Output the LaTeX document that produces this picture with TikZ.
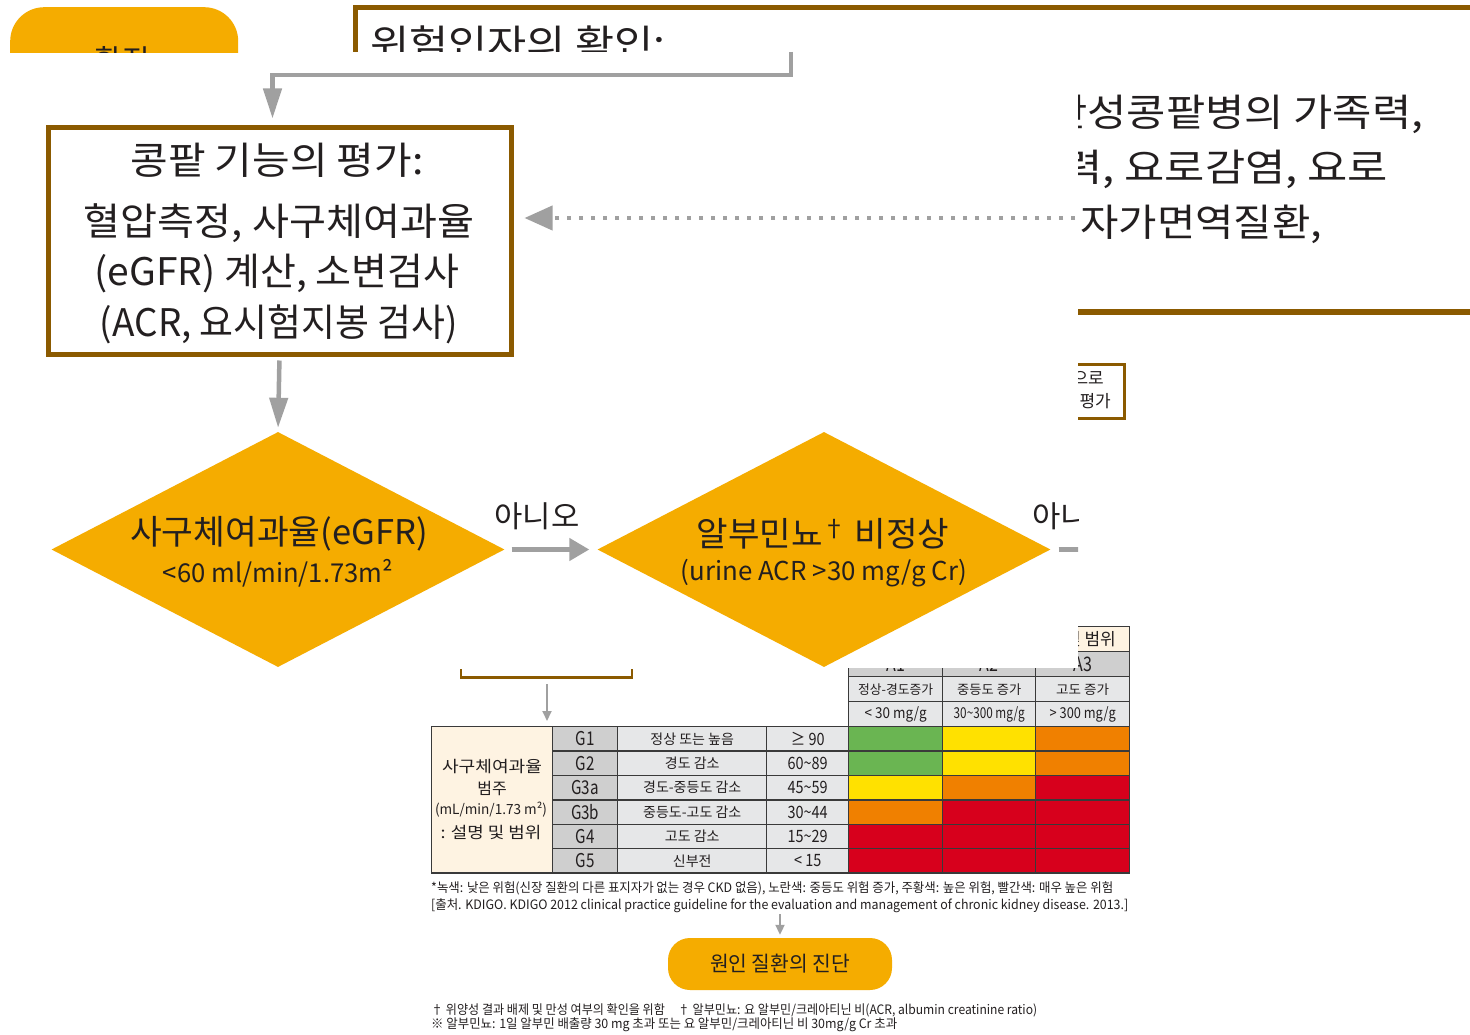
\documentclass[tikz,border=0pt]{standalone}
\usepackage{fontspec}
\usepackage{graphicx}
\setmainfont{Noto Sans CJK KR}
\usetikzlibrary{arrows.meta,shapes.geometric}
\definecolor{brn}{HTML}{8B5A00}
\definecolor{org}{HTML}{F5AC00}
\definecolor{gry}{HTML}{A0A0A0}
\definecolor{ink}{HTML}{231F20}
\definecolor{tgray}{HTML}{CFCFCF}
\definecolor{tlight}{HTML}{E6E7E8}
\definecolor{cream}{HTML}{FEF3E2}
\definecolor{cgreen}{HTML}{6AB552}
\definecolor{cyellow}{HTML}{FFE100}
\definecolor{corange}{HTML}{F08000}
\definecolor{cred}{HTML}{D7001C}
\definecolor{tline}{HTML}{3A3A3A}
\newcommand\fitw[2]{\resizebox{#1}{\height}{#2}}
\newcommand\setfs[1]{\fontsize{#1}{#1}\selectfont}
\newcommand\mytilde{\char"7E\relax}
\begin{document}
\begin{tikzpicture}[x=1pt,y=-1pt,
  txt/.style={inner sep=0pt, text=ink},
  garrow/.style={draw=gry, line width=4.5pt, -{Triangle[length=30pt,width=18pt]}},
  sarrow/.style={draw=gry, line width=4.5pt, -{Triangle[length=20pt,width=22pt]}},
  tarrow/.style={draw=gry, line width=2pt, -{Triangle[length=10pt,width=9pt]}},
  tcell/.style={draw=tline, line width=1.4pt, anchor=north west, inner sep=0pt, text=ink, minimum height=24.4pt},
  decision/.style={diamond, fill=org, minimum width=453pt, minimum height=235pt, inner sep=0pt},
  frame/.style={draw=brn, line width=5pt, inner sep=0pt}]
\fill[white] (0,0) rectangle (1470,1035);
\path[use as bounding box] (0,0) rectangle (1470,1035);

% ---- top-left clipped orange box
\begin{scope}
\clip (0,0) rectangle (300,53);
\node[fill=org, rounded corners=34pt, minimum width=228pt, minimum height=110pt, anchor=north west, inner sep=0pt] (confirm) at (10,7) {};
\node[txt, font=\setfs{30}] (confirmtxt) at (122,60) {확진};
\end{scope}

% ---- top clipped risk box
\begin{scope}
\clip (340,0) rectangle (1470,52);
\node[frame, anchor=north west, minimum width=1250pt, minimum height=150pt] (risk) at (353,5.5) {};
\node[txt, anchor=west, font=\setfs{38}] (risktxt) at (370,43) {\fitw{295pt}{위험인자의 확인:}};
\end{scope}
\coordinate (riskout) at (791,52);

% ---- kidney evaluation box
\node[frame, anchor=north west, minimum width=463pt, minimum height=226pt] (kidney) at (45.5,125.5) {};
\node[txt, font=\setfs{38}] (k1) at (277,160) {\fitw{293pt}{콩팥 기능의 평가:}};
\node[txt, font=\setfs{38}] (k2) at (279,223) {\fitw{390pt}{혈압측정, 사구체여과율}};
\node[txt, font=\setfs{38}] (k3) at (277,274) {\fitw{365pt}{(eGFR) 계산, 소변검사}};
\node[txt, font=\setfs{38}] (k4) at (279,324) {\fitw{358pt}{(ACR, 요시험지봉 검사)}};

\draw[garrow, rounded corners=0pt] (riskout) -- (791,75) -| ([xshift=-7pt]kidney.north) [shorten >=7pt];

% ---- right clipped text
\begin{scope}
\clip (1078,60) rectangle (1470,300);
\node[txt, anchor=west, font=\setfs{38}] (fam1) at (1048,114) {\fitw{375pt}{만성콩팥병의 가족력,}};
\node[txt, anchor=west, font=\setfs{38}] (fam2) at (1022,169) {\fitw{366pt}{병력, 요로감염, 요로}};
\node[txt, anchor=west, font=\setfs{38}] (fam3) at (1080,224) {\fitw{242pt}{자가면역질환,}};
\end{scope}
\draw[brn, line width=6pt] (1078,312) -- (1470,312);
\coordinate (famend) at (1075,218);
\draw[gry, line width=4pt, dash pattern=on 4pt off 8pt, -{Triangle[length=28pt,width=24pt]}, shorten >=11pt] (famend) -- (famend -| kidney.east);

% ---- small clipped box
\begin{scope}
\clip (1078,350) rectangle (1200,430);
\node[draw=brn, line width=3pt, anchor=north east, minimum width=100pt, minimum height=54pt, inner sep=0pt] (recheck) at (1125.5,362.5) {};
\node[txt, anchor=east, font=\setfs{17}] (re1) at (1104,378) {주기적으로};
\node[txt, anchor=east, font=\setfs{17}] (re2) at (1111,401) {재평가};
\end{scope}

% ---- table
\node[tcell, fill=cream, minimum width=121pt, minimum height=146.4pt] (gfrcat) at (431,726) {};
\node[txt, font=\setfs{16}] (gc1) at (492,767) {\fitw{100pt}{사구체여과율}};
\node[txt, font=\setfs{16}] (gc2) at (492,788) {범주};
\node[txt, font=\setfs{14}] (gc3) at (491,810) {\fitw{112pt}{(mL/min/1.73 m²)}};
\node[txt, font=\setfs{16}] (gc4) at (491,833) {\fitw{101pt}{: 설명 및 범위}};

\foreach \g/\desc/\val/\ca/\cb/\cc [count=\i from 0] in {
  G1/정상 또는 높음/≥ 90/cgreen/cyellow/corange,
  G2/경도 감소/60\mytilde 89/cgreen/cyellow/corange,
  G3a/경도-중등도 감소/45\mytilde 59/cyellow/corange/cred,
  G3b/중등도-고도 감소/30\mytilde 44/corange/cred/cred,
  G4/고도 감소/15\mytilde 29/cred/cred/cred,
  G5/신부전/< 15/cred/cred/cred}{
  \pgfmathsetmacro\yy{726+24.4*\i}
  \node[tcell, fill=tgray, minimum width=65pt, font=\setfs{19}] (g\i) at (552,\yy) {\scalebox{0.8}[1]{\g}};
  \node[tcell, fill=tlight, minimum width=149pt, font=\setfs{14}] (ds\i) at (617,\yy) {\desc};
  \node[tcell, fill=tlight, minimum width=82pt, font=\setfs{17}] (vl\i) at (766,\yy) {\scalebox{0.85}[1]{\val}};
  \node[tcell, fill=\ca, minimum width=94pt] (ca\i) at (848,\yy) {};
  \node[tcell, fill=\cb, minimum width=93pt] (cb\i) at (942,\yy) {};
  \node[tcell, fill=\cc, minimum width=94pt] (cc\i) at (1035,\yy) {};
}
% header rows
\node[tcell, fill=cream, minimum width=281pt, minimum height=25pt] (ahead) at (848,626) {};
\node[txt, anchor=east, font=\setfs{17}] (aheadtxt) at (1116,639) {알부민뇨 범주: 설명 및 범위};
\foreach \lab/\x/\w [count=\j] in {A1/848/94, A2/942/93, A3/1035/94}{
  \node[tcell, fill=tgray, minimum width=\w pt, minimum height=25pt, font=\setfs{20}] (acat\j) at (\x,651) {\scalebox{0.8}[1]{\lab}};
}
\node[tcell, fill=tlight, minimum width=94pt, minimum height=25pt, font=\setfs{13}] (ad1) at (848,676) {\fitw{75pt}{정상-경도증가}};
\node[tcell, fill=tlight, minimum width=93pt, minimum height=25pt, font=\setfs{13}] (ad2) at (942,676) {\fitw{64pt}{중등도 증가}};
\node[tcell, fill=tlight, minimum width=94pt, minimum height=25pt, font=\setfs{13}] (ad3) at (1035,676) {\fitw{53pt}{고도 증가}};
\node[tcell, fill=tlight, minimum width=94pt, minimum height=25pt, font=\setfs{15}] (av1) at (848,701) {\fitw{62pt}{< 30 mg/g}};
\node[tcell, fill=tlight, minimum width=93pt, minimum height=25pt, font=\setfs{15}] (av2) at (942,701) {\fitw{71pt}{30\mytilde 300 mg/g}};
\node[tcell, fill=tlight, minimum width=94pt, minimum height=25pt, font=\setfs{15}] (av3) at (1035,701) {\fitw{66pt}{> 300 mg/g}};
% white cover over header
\fill[white] (820,600) rectangle (1078,667.5);

% ---- diamonds
\node[decision] (d1) at (278,549.5) {};
\node[txt, font=\setfs{34}] (d1a) at (279,534) {\fitw{298pt}{사구체여과율(eGFR)}};
\node[txt, font=\setfs{26}] (d1b) at (278,573) {\fitw{230pt}{<60 ml/min/1.73m²}};
\node[decision] (d2) at (824,549.5) {};
\node[txt, font=\setfs{34}] (d2a) at (823,534) {\fitw{253pt}{알부민뇨\textsuperscript{†} 비정상}};
\node[txt, font=\setfs{26}] (d2b) at (824,573) {\fitw{286pt}{(urine ACR >30 mg/g Cr)}};

\draw[garrow, shorten >=4pt, shorten <=4pt] (kidney.south) -- (d1.north);
\draw[sarrow, shorten <=7pt, shorten >=8pt] (d1.east) -- (d2.west);
\node[txt, font=\setfs{30}] (no1) at (537,516) {\fitw{85pt}{아니오}};
\begin{scope}
\clip (1000,480) rectangle (1078,600);
\node[txt, font=\setfs{30}] (no2) at (1075,516) {\fitw{85pt}{아니오}};
\coordinate (d2out) at (1100,549.5);
\draw[gry, line width=4.5pt, shorten <=8pt] (d2.east) -- (d2out);
\end{scope}

% ---- bracket and small arrow
\draw[brn, line width=2.5pt] (461,669) |- (632,677.5) -- (632,669);
\coordinate (brk) at (547,684);
\draw[tarrow, shorten >=5pt] (brk) -- (brk |- gfrcat.north);

% ---- footnotes under table
\node[txt, anchor=west, font=\setfs{13}] (fn1) at (431,888) {\fitw{682pt}{*녹색: 낮은 위험(신장 질환의 다른 표지자가 없는 경우 CKD 없음), 노란색: 중등도 위험 증가, 주황색: 높은 위험, 빨간색: 매우 높은 위험}};
\node[txt, anchor=west, font=\setfs{13}] (fn2) at (431,906) {\fitw{697pt}{[출처. KDIGO. KDIGO 2012 clinical practice guideline for the evaluation and management of chronic kidney disease. 2013.]}};

% ---- diagnosis box
\node[fill=org, rounded corners=22pt, minimum width=224pt, minimum height=52pt, inner sep=0pt, text=ink, font=\setfs{21}] (diag) at (780,964) {\fitw{140pt}{원인 질환의 진단}};
\coordinate (fnout) at (780,914);
\draw[tarrow, shorten >=3pt] (fnout) -- (diag.north);

% ---- bottom notes
\node[txt, anchor=west, font=\setfs{13}] (bn1) at (431,1010) {\fitw{606pt}{† 위양성 결과 배제 및 만성 여부의 확인을 위함\hspace{14pt}† 알부민뇨: 요 알부민/크레아티닌 비(ACR, albumin creatinine ratio)}};
\node[txt, anchor=west, font=\setfs{13}] (bn2) at (431,1025) {\fitw{466pt}{※ 알부민뇨: 1일 알부민 배출량 30 mg 초과 또는 요 알부민/크레아티닌 비 30mg/g Cr 초과}};
\end{tikzpicture}
\end{document}
